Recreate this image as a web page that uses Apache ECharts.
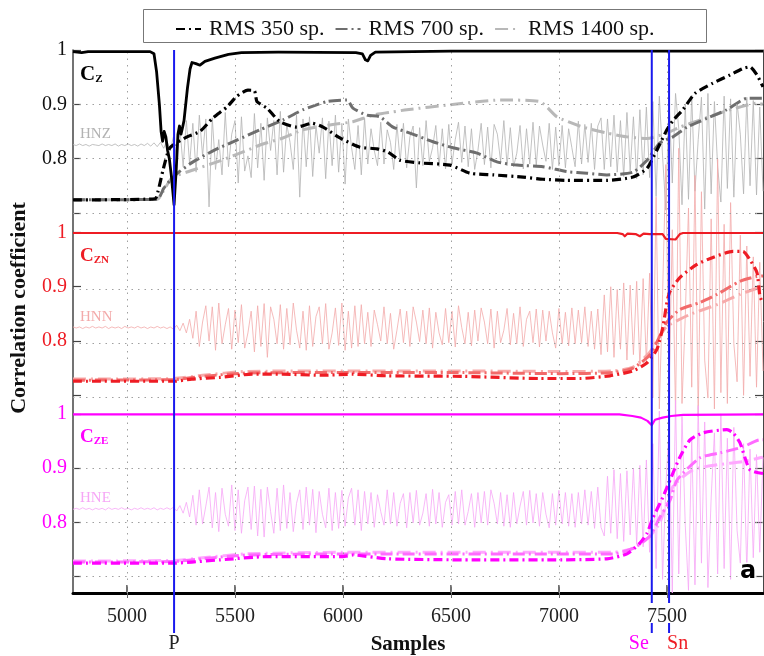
<!DOCTYPE html>
<html>
<head>
<meta charset="utf-8">
<script src="https://cdn.jsdelivr.net/npm/echarts@6/dist/echarts.min.js"></script>
<style>
  html, body { margin: 0; padding: 0; background: #fff; }
  #chart { width: 764px; height: 656px; }
</style>
</head>
<body>
<div id="chart"></div>
<script>
// ---- axes ----
const sampleMin = 4750, sampleMax = 7945;
const sampleTicks = [5000, 5500, 6000, 6500, 7000, 7500];
const coefTicks = [0.7, 0.8, 0.9, 1];
const coefLabels = [0.8, 0.9, 1];
// the three components share one plot; each sits lower by this shift
const panelShift = [0, 0.336, 0.67];

// ---- phase picks ----
const phaseNames = ['P', 'Se', 'Sn'];
const phaseSamples = [5218, 7430, 7510];

// ---- correlation coefficients [sample, value] ----
const cZ = [[4750,0.997],[4790,0.995],[4820,0.997],[5107,0.997],[5125,0.993],[5137,0.96],[5150,0.9],[5158,0.85],
  [5165,0.832],[5172,0.85],[5180,0.84],[5188,0.815],[5196,0.8],[5205,0.77],[5218,0.715],[5228,0.78],[5236,0.845],
  [5243,0.86],[5250,0.845],[5256,0.855],[5264,0.87],[5280,0.93],[5292,0.965],[5301,0.977],[5319,0.975],[5338,0.972],
  [5361,0.979],[5407,0.985],[5470,0.992],[5530,0.995],[5700,0.996],[6060,0.995],[6090,0.993],[6104,0.982],
  [6115,0.98],[6128,0.99],[6150,0.996],[6500,0.998],[7945,0.998]];
const cZN = [[4750,0.999],[7270,0.999],[7295,0.997],[7305,0.993],[7318,0.998],[7355,0.997],[7375,0.993],[7392,0.998],
  [7420,0.997],[7480,0.997],[7495,0.988],[7540,0.987],[7560,0.997],[7575,0.999],[7945,0.999]];
const cZE = [[4750,0.999],[7280,0.999],[7340,0.996],[7380,0.993],[7410,0.987],[7430,0.979],[7445,0.989],[7480,0.993],
  [7520,0.996],[7575,0.998],[7945,0.999]];

// ---- RMS-window curves [sample, value] ----
const rms350Z = [[4750,0.724],[5130,0.726],[5144,0.74],[5167,0.779],[5199,0.82],[5278,0.84],[5338,0.85],[5398,0.875],
  [5463,0.895],[5509,0.915],[5560,0.926],[5590,0.925],[5602,0.905],[5648,0.893],[5708,0.868],[5787,0.858],[5857,0.865],
  [5908,0.858],[5986,0.838],[6079,0.821],[6158,0.818],[6208,0.812],[6264,0.797],[6357,0.792],[6496,0.788],[6588,0.773],
  [6695,0.77],[6834,0.766],[6926,0.762],[7037,0.76],[7222,0.76],[7343,0.766],[7408,0.782],[7454,0.816],[7500,0.853],
  [7528,0.87],[7574,0.89],[7630,0.92],[7713,0.939],[7792,0.954],[7852,0.966],[7884,0.969],[7917,0.954],[7945,0.932]];
const rms700Z = [[4750,0.724],[5140,0.725],[5170,0.745],[5200,0.76],[5240,0.775],[5306,0.794],[5407,0.816],[5509,0.834],
  [5616,0.853],[5722,0.871],[5815,0.89],[5926,0.905],[6019,0.908],[6046,0.893],[6111,0.88],[6171,0.877],[6232,0.858],
  [6310,0.847],[6417,0.831],[6509,0.82],[6621,0.81],[6713,0.794],[6806,0.788],[6926,0.785],[7037,0.776],[7130,0.773],
  [7222,0.77],[7343,0.775],[7408,0.797],[7468,0.829],[7528,0.84],[7593,0.858],[7685,0.874],[7778,0.89],[7871,0.911],
  [7945,0.911]];
const rms1400Z = [[4750,0.724],[5140,0.725],[5175,0.745],[5210,0.765],[5306,0.779],[5417,0.794],[5523,0.81],[5616,0.825],
  [5722,0.838],[5815,0.853],[5940,0.862],[6046,0.868],[6139,0.88],[6232,0.886],[6296,0.89],[6496,0.899],[6727,0.908],
  [6912,0.905],[6991,0.877],[7111,0.858],[7222,0.847],[7315,0.84],[7408,0.837],[7500,0.847],[7560,0.858],[7653,0.871],
  [7746,0.884],[7838,0.895],[7917,0.902],[7945,0.9]];

const rms350N = [[4750,0.726],[5218,0.726],[5300,0.73],[5431,0.733],[5580,0.739],[5722,0.739],[5894,0.737],[6046,0.739],
  [6204,0.736],[6556,0.735],[6912,0.731],[7097,0.731],[7236,0.736],[7343,0.745],[7408,0.76],[7454,0.785],[7482,0.827],
  [7500,0.871],[7514,0.891],[7560,0.917],[7639,0.941],[7713,0.954],[7806,0.965],[7852,0.965],[7884,0.95],[7917,0.926],
  [7931,0.882],[7945,0.87]];
const rms700N = [[4750,0.728],[5218,0.729],[5350,0.735],[5550,0.741],[6000,0.742],[6500,0.742],[7000,0.74],[7250,0.742],
  [7343,0.75],[7422,0.775],[7468,0.81],[7500,0.835],[7560,0.858],[7653,0.871],[7732,0.886],[7838,0.91],[7917,0.919],
  [7945,0.92]];
const rms1400N = [[4750,0.73],[5218,0.731],[5350,0.737],[5550,0.744],[6000,0.745],[6500,0.745],[7000,0.744],[7250,0.745],
  [7343,0.752],[7422,0.78],[7468,0.81],[7500,0.827],[7607,0.849],[7732,0.867],[7838,0.886],[7931,0.899],[7945,0.9]];

const rms350E = [[4750,0.725],[5218,0.725],[5300,0.727],[5431,0.731],[5648,0.737],[6000,0.737],[6046,0.74],[6204,0.733],
  [6602,0.731],[6945,0.731],[7222,0.733],[7315,0.742],[7375,0.762],[7408,0.78],[7435,0.808],[7482,0.847],[7528,0.891],
  [7560,0.92],[7607,0.952],[7667,0.965],[7778,0.971],[7806,0.965],[7838,0.947],[7884,0.897],[7945,0.89]];
const rms700E = [[4750,0.727],[5218,0.728],[5350,0.733],[5550,0.74],[6000,0.742],[7250,0.742],[7343,0.752],[7422,0.775],
  [7468,0.81],[7514,0.84],[7547,0.878],[7653,0.919],[7746,0.928],[7852,0.939],[7931,0.952],[7945,0.952]];
const rms1400E = [[4750,0.729],[5218,0.73],[5350,0.735],[5550,0.742],[6000,0.745],[7250,0.745],[7343,0.752],[7422,0.775],
  [7468,0.8],[7528,0.866],[7621,0.897],[7732,0.906],[7852,0.912],[7931,0.919],[7945,0.92]];

// ---- seismograms: samples every waveStep from waveStart, deviation from waveBase in thousandths ----
const waveStart = 4750, waveStep = 15, waveBase = 0.825;
const hnzDev = [1,-1,2,-1,1,-2,1,0,-1,2,-1,1,-1,2,-2,1,-1,2,-1,1,-2,2,-1,3,-2,4,-3,5,-6,8,-10,
  15,-25,30,-40,45,-35,
  40,-50,55,-20,48,-114,50,-45,10,-55,60,-40,20,45,-70,52,-48,-20,-60,58,-42,40,-65,50,-10,45,-55,62,-50,38,
  5,-45,55,-96,48,-40,52,-58,36,-15,50,-62,44,-38,55,-50,40,-72,48,-5,-45,36,-55,50,
  -35,30,-10,-38,42,-35,28,5,-45,38,-30,40,-42,15,35,-79,32,-38,45,-30,-5,36,-40,30,-44,38,-35,10,42,-32,
  35,-40,30,-45,-10,40,-36,33,-42,38,20,-30,45,-38,32,-40,-15,36,-44,30,-35,42,-38,35,0,-30,40,-45,33,-38,
  36,-42,30,-5,-40,44,-35,38,-32,40,-45,35,50,
  -45,48,-40,55,-50,45,-58,60,-48,52,-62,65,-55,70,-60,
  80,-95,90,-20,-120,85,-70,95,30,-110,75,-100,92,-85,10,88,-118,95,-90,80,-40,-105,90,-80,85,-96,78,20,-90,88,
  -75,82,-92,70,-85];
const hnnDev = [1,-1,1,-2,1,-1,2,-1,1,-1,2,-2,1,-1,1,-2,2,-1,1,-1,2,-1,1,-2,1,-1,2,-1,1,-2,1,
  -3,4,-6,8,-10,15,
  -20,30,-35,10,40,-25,38,-42,45,-30,5,35,-40,32,-28,42,-38,-10,30,-45,40,-35,44,-55,38,15,-30,42,-40,35,
  -32,45,-5,-38,30,-42,40,-35,20,38,-30,44,-40,-10,36,-33,45,-42,30,-38,40,-35,42,-30,
  28,-35,32,5,-25,38,-30,26,-40,-5,34,-28,30,-35,38,10,-26,32,-30,36,-38,28,-10,-32,35,-28,30,-36,40,0,
  -30,28,-34,32,-25,36,10,-30,34,-38,30,-28,-5,35,-32,26,-30,38,-35,15,30,-28,34,-36,32,-25,30,-10,-38,35,
  -30,28,-34,36,-30,32,-28,38,-35,30,-40,34,-50,
  60,-45,75,-55,70,-40,82,-60,78,-50,85,-70,90,-65,100,
  -130,240,-150,60,300,-120,180,-160,330,-140,20,220,-110,280,-165,250,-60,-130,200,-150,310,-120,190,-140,230,
  -30,-100,170,-125,150,-90,130,-110,120,-80];
const hneDev = [-1,1,-1,2,-1,1,-2,1,-1,1,-2,2,-1,1,-1,2,-1,1,-2,1,-1,2,-1,1,-1,2,-2,1,-1,2,-1,
  3,-4,6,-8,12,-15,
  25,-30,35,-28,5,40,-35,30,-42,38,-10,-32,44,-40,35,-45,15,40,-38,42,-50,36,-52,40,-5,-45,38,-40,44,-36,
  30,-42,10,35,-38,40,-30,36,-44,32,-10,-35,38,-40,30,-36,34,-32,20,38,-30,35,-40,32,
  -28,30,-34,26,-5,-30,35,-28,30,-32,10,28,-35,30,-26,34,-30,-8,28,-32,36,-28,30,-34,12,26,-30,32,-28,35,
  -30,-5,28,-34,30,-26,32,-30,35,10,-28,30,-32,26,-34,30,-28,5,32,-30,34,-26,28,-32,30,-10,-35,28,-30,34,
  -28,30,-32,28,-34,30,-28,35,-30,32,-36,40,-34,
  -50,60,-45,72,-55,65,-60,70,-48,75,-65,80,-70,90,-80,
  120,-110,180,-130,40,150,-155,200,-120,170,-30,-150,130,-140,190,-100,160,-145,20,140,-120,175,-110,130,-130,
  150,-40,-100,120,-115,110,-90,100,-80,95];

// ---- styling ----
const SERIF = '"Liberation Serif", "Times New Roman", serif';
const RED = '#ee1c24', MAGENTA = '#ff00ff', BLUE = '#1a1aee';
const panelStyle = [
  { text: '#111', c: '#000', rms: ['#000000', '#6e6e6e', '#b8b8b8'], wave: '#b2b2b2', sub: 'Z',  hn: 'HNZ', cSize: 21 },
  { text: RED,    c: RED,    rms: [RED, '#f26a6a', '#f7aaaa'],         wave: '#f3aaaa', sub: 'ZN', hn: 'HNN', cSize: 19 },
  { text: MAGENTA, c: MAGENTA, rms: [MAGENTA, '#ff6bff', '#ffa8ff'],   wave: '#f6a6f6', sub: 'ZE', hn: 'HNE', cSize: 19 }
];
const rmsNames = ['RMS 350 sp.', 'RMS 700 sp.', 'RMS 1400 sp.'];
const rmsDash = [[9, 4, 2, 4], [12, 4, 2, 4], [13, 5, 2, 5]];
const rmsWidth = [3.2, 3, 3];

const shifted = (pairs, p) => pairs.map(([s, v]) => [s, +(v - panelShift[p]).toFixed(4)]);
const wavePairs = (dev, p) => dev.map((d, i) => [waveStart + i * waveStep, +(waveBase + d / 1000 - panelShift[p]).toFixed(4)]);

function line(name, data, color, width, type, z, smooth) {
  return {
    type: 'line', name, data, z, smooth: smooth || false, symbol: 'none', showSymbol: false,
    silent: true, animation: false, clip: true,
    lineStyle: { color, width, type: type || 'solid', cap: 'butt', join: 'round' },
    itemStyle: { color }
  };
}

const cData = [cZ, cZN, cZE];
const rmsData = [[rms350Z, rms700Z, rms1400Z], [rms350N, rms700N, rms1400N], [rms350E, rms700E, rms1400E]];
const waveData = [hnzDev, hnnDev, hneDev];

const gridRows = [];
panelShift.forEach(sh => [0.7, 0.8, 0.9].forEach(v => gridRows.push(+(v - sh).toFixed(4))));

const series = [];
panelShift.forEach((sh, p) => {
  const st = panelStyle[p];
  const w = line('H' + st.sub, wavePairs(waveData[p], p), st.wave, 0.8, 'solid', 2);
  if (p === 0) {
    w.markLine = {
      silent: true, symbol: ['none', 'none'], label: { show: false }, animation: false,
      lineStyle: { color: '#a0a0a0', width: 1, type: [1.5, 5] },
      emphasis: { disabled: true },
      data: [...sampleTicks.map(s => ({ xAxis: s })), ...gridRows.map(v => ({ yAxis: v }))]
    };
  }
  series.push(w);
});
panelShift.forEach((sh, p) => {
  const st = panelStyle[p];
  for (let k = 2; k >= 0; k--) {
    series.push(line(rmsNames[k], shifted(rmsData[p][k], p), st.rms[k], rmsWidth[k], rmsDash[k], 5 - k, 0.2));
  }
});
panelShift.forEach((sh, p) => {
  const st = panelStyle[p];
  series.push(line('C' + st.sub, shifted(cData[p], p), st.c, p === 0 ? 2.8 : 2.2, 'solid', 8));
});

const yTickValues = [], yLabelValues = [];
panelShift.forEach(sh => {
  coefTicks.forEach(v => yTickValues.push(+(v - sh).toFixed(4)));
  coefLabels.forEach(v => yLabelValues.push(+(v - sh).toFixed(4)));
});
const panelOf = v => (v > 0.68 ? 0 : (v > 0.345 ? 1 : 2));

const chart = echarts.init(document.getElementById('chart'), null, { renderer: 'canvas' });
chart.setOption({
  animation: false,
  backgroundColor: '#fff',
  grid: { left: 73, right: 1, top: 50, bottom: 63, containLabel: false },
  legend: {
    data: rmsNames, left: 170, top: 13, itemWidth: 25, itemHeight: 12, itemGap: 10,
    selectedMode: false,
    itemStyle: { opacity: 0, borderWidth: 0 },
    textStyle: { fontFamily: SERIF, fontSize: 22, color: '#111', padding: [0, 0, 0, 3] }
  },
  xAxis: [{
    type: 'value', min: sampleMin, max: sampleMax, position: 'bottom',
    axisLine: { show: true, lineStyle: { color: '#444', width: 1.5 } },
    axisTick: { show: true, inside: true, length: 8, customValues: sampleTicks, lineStyle: { color: '#444', width: 1.5 } },
    axisLabel: { customValues: sampleTicks, margin: 14, fontFamily: SERIF, fontSize: 20, color: '#222',
      formatter: v => String(v) },
    splitLine: { show: false }
  }, {
    type: 'value', min: sampleMin, max: sampleMax, position: 'top',
    axisLine: { show: true, lineStyle: { color: '#000', width: 3 } },
    axisTick: { show: true, inside: true, length: 5, customValues: sampleTicks, lineStyle: { color: '#666' } },
    axisLabel: { show: false }, splitLine: { show: false }
  }],
  yAxis: [{
    type: 'value', min: 0, max: 1, position: 'left',
    axisLine: { show: true, lineStyle: { color: '#444', width: 1.5 } },
    axisTick: { show: true, inside: true, length: 8, customValues: yTickValues, lineStyle: { color: '#444', width: 1.2 } },
    axisLabel: {
      customValues: yLabelValues, margin: 6, fontFamily: SERIF, fontSize: 20,
      formatter: v => {
        const p = panelOf(v);
        const t = +(v + panelShift[p]).toFixed(2);
        return '{p' + p + '|' + (t === 1 ? '1' : t.toFixed(1)) + '}';
      },
      rich: {
        p0: { color: panelStyle[0].text, fontFamily: SERIF, fontSize: 20 },
        p1: { color: panelStyle[1].text, fontFamily: SERIF, fontSize: 20 },
        p2: { color: panelStyle[2].text, fontFamily: SERIF, fontSize: 20 }
      }
    },
    splitLine: { show: false }
  }, {
    type: 'value', min: 0, max: 1, position: 'right',
    axisLine: { show: true, lineStyle: { color: '#444', width: 1 } },
    axisTick: { show: true, inside: true, length: 8, customValues: yTickValues, lineStyle: { color: '#444', width: 1.2 } },
    axisLabel: { show: false }, splitLine: { show: false }
  }],
  series
});

// annotations placed through the axes' own scales
const xPx = s => chart.convertToPixel({ xAxisIndex: 0 }, s);
const yPx = (p, v) => chart.convertToPixel({ yAxisIndex: 0 }, v - panelShift[p]);
const plotTop = chart.convertToPixel({ yAxisIndex: 0 }, 1);
const plotBottom = chart.convertToPixel({ yAxisIndex: 0 }, 0);
const x0 = xPx(sampleMin);

const graphic = [];
// legend frame
graphic.push({ type: 'rect', shape: { x: 143.5, y: 9.5, width: 563, height: 33 },
  style: { fill: 'none', stroke: '#777', lineWidth: 1 }, z: 1, silent: true });

phaseSamples.forEach((s, i) => {
  const x = xPx(s);
  if (i === 0) {
    graphic.push({ type: 'line', shape: { x1: x, y1: plotTop, x2: x, y2: plotBottom + 40 },
      style: { stroke: BLUE, lineWidth: 2 }, z: 50, silent: true });
  } else {
    graphic.push({ type: 'line', shape: { x1: x, y1: plotTop, x2: x, y2: plotBottom },
      style: { stroke: BLUE, lineWidth: 2 }, z: 50, silent: true });
    graphic.push({ type: 'line', shape: { x1: x, y1: plotBottom, x2: x, y2: plotBottom + 40 },
      style: { stroke: BLUE, lineWidth: 2, lineDash: [10, 20] }, z: 50, silent: true });
  }
});
const phaseColors = ['#222', MAGENTA, RED];
const phaseAlign = ['center', 'right', 'left'];
const phaseNudge = [0, -3, -2];
phaseNames.forEach((n, i) => {
  graphic.push({ type: 'text', x: xPx(phaseSamples[i]) + phaseNudge[i], y: plotBottom + 51,
    style: { text: n, fill: phaseColors[i], font: '20px ' + SERIF, align: phaseAlign[i], verticalAlign: 'middle' },
    z: 50, silent: true });
});

// component labels
panelStyle.forEach((st, p) => {
  graphic.push({ type: 'text', x: x0 + 7, y: yPx(p, 0.978), z: 60, silent: true,
    style: {
      text: '{c|C}{s|' + st.sub + '}', fill: st.c,
      rich: {
        c: { fontFamily: SERIF, fontWeight: 'bold', fontSize: st.cSize, lineHeight: st.cSize + 2, fill: st.c, verticalAlign: 'bottom' },
        s: { fontFamily: SERIF, fontWeight: 'bold', fontSize: 11, lineHeight: st.cSize - 1, fill: st.c, verticalAlign: 'bottom' }
      },
      align: 'left', verticalAlign: 'top'
    } });
  graphic.push({ type: 'text', x: x0 + 7, y: yPx(p, 0.845), z: 60, silent: true,
    style: { text: st.hn, fill: st.wave, font: '15px ' + SERIF, align: 'left', verticalAlign: 'middle' } });
});

// axis titles
graphic.push({ type: 'text', x: (x0 + xPx(sampleMax)) / 2 - 10, y: 645, silent: true,
  style: { text: 'Samples', fill: '#111', font: 'bold 21px ' + SERIF, align: 'center', verticalAlign: 'middle' } });
graphic.push({ type: 'text', x: 19, y: 308, rotation: Math.PI / 2, silent: true,
  style: { text: 'Correlation coefficient', fill: '#111', font: 'bold 22px ' + SERIF, align: 'center', verticalAlign: 'middle' } });
// panel tag
graphic.push({ type: 'text', x: xPx(sampleMax) - 15, y: yPx(2, 0.71), z: 70, silent: true,
  style: { text: 'a', fill: '#000', font: 'bold 24px "DejaVu Sans", sans-serif', align: 'center', verticalAlign: 'middle',
    stroke: '#fff', lineWidth: 3 } });

chart.setOption({ graphic });
</script>
</body>
</html>
